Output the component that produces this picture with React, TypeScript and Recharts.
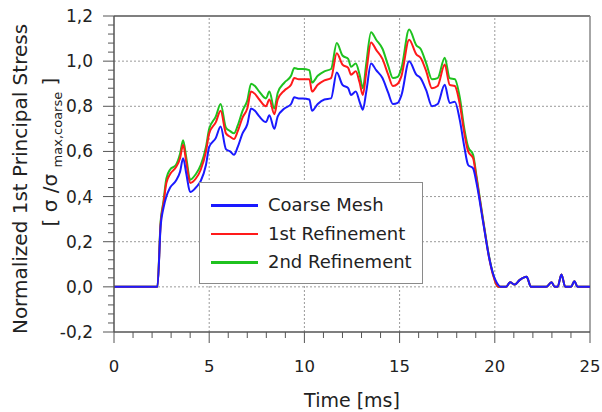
import React from 'react';
import { LineChart, Line, XAxis, YAxis, ReferenceLine, Legend } from 'recharts';

// ---- data ----
const timeMs = [
  0, 2.28, 2.45, 2.6, 2.75, 2.95, 3.25, 3.47, 3.63, 3.8,
  4.0, 4.3, 4.56, 4.83, 5.0, 5.35, 5.6, 5.88, 6.1, 6.3,
  6.5, 6.75, 7.0, 7.2, 7.4, 7.63, 7.98, 8.16, 8.42, 8.6,
  8.95, 9.3, 9.47, 9.7, 9.91, 10.26, 10.4, 10.7, 11.05, 11.4,
  11.7, 12.0, 12.3, 12.45, 12.7, 12.9, 13.07, 13.25, 13.5, 13.77,
  14.1, 14.4, 14.65, 14.9, 15.1, 15.5, 15.88, 16.1, 16.4, 16.7,
  17.0, 17.37, 17.63, 17.9, 18.16, 18.4, 18.6, 18.86, 19.04, 19.4,
  19.7, 19.9, 20.17, 20.3, 20.6, 20.8, 21.05, 21.3, 21.67, 21.9,
  22.7, 22.98, 23.15, 23.3, 23.5, 23.7, 24.0, 24.18, 24.35, 25,
];

const coarseMesh = [
  0, 0, 0.27, 0.35, 0.40, 0.44, 0.47, 0.51, 0.57, 0.50,
  0.42, 0.44, 0.47, 0.54, 0.62, 0.66, 0.71, 0.61, 0.60, 0.585,
  0.62, 0.68, 0.72, 0.79, 0.78, 0.755, 0.73, 0.76, 0.70, 0.755,
  0.79, 0.81, 0.84, 0.835, 0.835, 0.83, 0.78, 0.81, 0.83, 0.835,
  0.95, 0.895, 0.88, 0.85, 0.865, 0.82, 0.785, 0.865, 0.99, 0.96,
  0.925, 0.86, 0.81, 0.815, 0.85, 1.0, 0.94, 0.925, 0.87, 0.80,
  0.81, 0.895, 0.815, 0.82, 0.74, 0.62, 0.54, 0.525, 0.46, 0.28,
  0.13, 0.06, 0.01, 0, 0, 0.02, 0.01, 0.03, 0.045, 0,
  0, 0.02, 0, 0, 0.055, 0, 0, 0.025, 0, 0,
];

const firstRefinement = [
  0, 0, 0.28, 0.37, 0.46, 0.50, 0.53, 0.57, 0.63, 0.55,
  0.46, 0.48, 0.52, 0.60, 0.68, 0.73, 0.78, 0.68, 0.665, 0.655,
  0.69, 0.75, 0.79, 0.865, 0.855, 0.83, 0.80, 0.83, 0.765, 0.83,
  0.87, 0.895, 0.925, 0.92, 0.92, 0.92, 0.865, 0.895, 0.915, 0.925,
  1.035, 0.985, 0.97, 0.94, 0.955, 0.905, 0.85, 0.95, 1.083, 1.05,
  1.01, 0.94, 0.89, 0.90, 0.935, 1.095, 1.03, 1.015, 0.955, 0.88,
  0.89, 0.985, 0.895, 0.89, 0.81, 0.68, 0.60, 0.57, 0.48, 0.285,
  0.13, 0.055, 0, 0, 0, 0.02, 0.01, 0.03, 0.045, 0,
  0, 0.02, 0, 0, 0.055, 0, 0, 0.025, 0, 0,
];

const secondRefinement = [
  0, 0, 0.29, 0.38, 0.48, 0.52, 0.54, 0.59, 0.65, 0.57,
  0.475, 0.50, 0.54, 0.62, 0.70, 0.755, 0.81, 0.705, 0.69, 0.68,
  0.715, 0.78, 0.825, 0.90, 0.89, 0.865, 0.835, 0.865, 0.79, 0.86,
  0.905, 0.935, 0.97, 0.965, 0.965, 0.96, 0.905, 0.935, 0.955, 0.965,
  1.08, 1.025, 1.01, 0.975, 0.99, 0.94, 0.88, 0.99, 1.128, 1.095,
  1.055, 0.98, 0.925, 0.93, 0.97, 1.14, 1.07, 1.055, 0.99, 0.92,
  0.925, 1.015, 0.925, 0.92, 0.84, 0.70, 0.62, 0.585, 0.49, 0.29,
  0.135, 0.06, 0, 0, 0, 0.02, 0.01, 0.03, 0.045, 0,
  0, 0.02, 0, 0, 0.055, 0, 0, 0.025, 0, 0,
];

const xMajorTicks = [0, 5, 10, 15, 20, 25];
const yMajorTicks = [-0.2, 0, 0.2, 0.4, 0.6, 0.8, 1.0, 1.2];
const xGridValues = [5, 10, 15, 20];
const yGridValues = [0, 0.2, 0.4, 0.6, 0.8, 1.0];

const seriesNames = ['Coarse Mesh', '1st Refinement', '2nd Refinement'];
const seriesKeys = ['coarse', 'ref1', 'ref2'];
const seriesColors = ['#1a1aff', '#ff1a1a', '#1fc21f'];

const xTitle = 'Time [ms]';
const yTitleLine1 = 'Normalized 1st Principal Stress';

// ---- table for recharts ----
const data = timeMs.map((t, i) => ({
  t,
  coarse: coarseMesh[i],
  ref1: firstRefinement[i],
  ref2: secondRefinement[i],
}));

const xAllTicks: number[] = [];
for (let v = 0; v <= 25; v += 1) xAllTicks.push(v);
const yAllTicks: number[] = [];
for (let k = -5; k <= 30; k += 1) yAllTicks.push(Math.round(k * 4) / 100);

const FONT = '"DejaVu Sans", sans-serif';
const AXIS_COLOR = '#555';

const isMajor = (list: number[], v: number) => list.some((m) => Math.abs(m - v) < 1e-6);
const fmt = (v: number) => v.toFixed(1).replace('.', ',');

const YTick = (props: any) => {
  const { x, y, payload } = props;
  const v = payload.value;
  const major = isMajor(yMajorTicks, v);
  return (
    <g>
      <line x1={x - (major ? 11 : 6)} x2={x} y1={y} y2={y} stroke={AXIS_COLOR} strokeWidth={1} />
      {major && (
        <text x={x - 21} y={y} dy={6} textAnchor="end" fontSize={17} fill="#222" fontFamily={FONT}>
          {fmt(v)}
        </text>
      )}
    </g>
  );
};

const XTick = (props: any) => {
  const { x, y, payload } = props;
  const v = payload.value;
  const major = isMajor(xMajorTicks, v);
  return (
    <g>
      <line x1={x} x2={x} y1={y} y2={y + (major ? 11 : 6)} stroke={AXIS_COLOR} strokeWidth={1} />
      {major && (
        <text x={x} y={y + 40} textAnchor="middle" fontSize={16.5} fill="#222" fontFamily={FONT}>
          {String(v)}
        </text>
      )}
    </g>
  );
};

const YTitle = (props: any) => {
  const vb = props.viewBox || { x: 0, y: 16, width: 114, height: 316 };
  const cy1 = vb.y + vb.height / 2 + 5;
  const cy2 = vb.y + vb.height / 2 - 22;
  const bx1 = vb.x + 27;
  const bx2 = vb.x + 57;
  return (
    <g fontFamily={FONT} fill="#222">
      <text transform={`translate(${bx1},${cy1}) rotate(-90)`} textAnchor="middle" fontSize={20}>
        {yTitleLine1}
      </text>
      <text transform={`translate(${bx2},${cy2}) rotate(-90)`} textAnchor="middle" fontSize={20}>
        <tspan>{'[ σ /σ '}</tspan>
        <tspan fontSize={13} dy={5}>max,coarse</tspan>
        <tspan dy={-5}>{' ]'}</tspan>
      </text>
    </g>
  );
};

const LegendBox = () => (
  <div
    style={{
      width: 222,
      height: 100,
      border: '1px solid #8a8a8a',
      background: '#fff',
      position: 'relative',
      fontFamily: FONT,
      fontSize: 18,
      color: '#222',
    }}
  >
    {seriesNames.map((name, i) => (
      <div key={name} style={{ position: 'absolute', left: 0, top: 22 + i * 28.5 - 12, height: 24, width: 222 }}>
        <div
          style={{
            position: 'absolute',
            left: 11,
            top: 11,
            width: 47,
            height: 2.5,
            background: seriesColors[i],
          }}
        />
        <div style={{ position: 'absolute', left: 68, top: 1, whiteSpace: 'nowrap', lineHeight: '22px' }}>{name}</div>
      </div>
    ))}
  </div>
);

export default function App() {
  return (
    <div style={{ position: 'absolute', left: 0, top: 0, width: 602, height: 412, overflow: 'hidden', background: '#fff' }}>
      <LineChart
        width={602}
        height={412}
        data={data}
        margin={{ top: 16, right: 12, bottom: 0, left: 0 }}
        style={{ fontFamily: FONT }}
      >
        {xGridValues.map((v) => (
          <ReferenceLine key={'gx' + v} x={v} stroke="#9a9a9a" strokeDasharray="2 2" strokeWidth={1} />
        ))}
        {yGridValues.map((v) => (
          <ReferenceLine key={'gy' + v} y={v} stroke="#9a9a9a" strokeDasharray="2 2" strokeWidth={1} />
        ))}
        <ReferenceLine y={1.2} stroke={AXIS_COLOR} strokeWidth={1.5} />
        <ReferenceLine x={25} stroke="#888" strokeWidth={1.5} />
        <XAxis
          dataKey="t"
          type="number"
          domain={[0, 25]}
          ticks={xAllTicks}
          interval={0}
          height={80}
          tickSize={0}
          tickMargin={0}
          tickLine={false}
          tick={<XTick />}
          axisLine={{ stroke: AXIS_COLOR, strokeWidth: 1.5 }}
          label={{ value: xTitle, position: 'insideBottom', offset: 5, fontSize: 19, fill: '#222', fontFamily: FONT }}
        />
        <YAxis
          type="number"
          domain={[-0.2, 1.2]}
          ticks={yAllTicks}
          interval={0}
          width={114}
          tickSize={0}
          tickMargin={0}
          tickLine={false}
          tick={<YTick />}
          axisLine={{ stroke: AXIS_COLOR, strokeWidth: 1.5 }}
          allowDataOverflow
          label={<YTitle />}
        />
        <Line dataKey={seriesKeys[2]} name={seriesNames[2]} stroke={seriesColors[2]} strokeWidth={2} dot={false} type="monotone" isAnimationActive={false} />
        <Line dataKey={seriesKeys[1]} name={seriesNames[1]} stroke={seriesColors[1]} strokeWidth={2} dot={false} type="monotone" isAnimationActive={false} />
        <Line dataKey={seriesKeys[0]} name={seriesNames[0]} stroke={seriesColors[0]} strokeWidth={2} dot={false} type="monotone" isAnimationActive={false} />
        <Legend
          layout="vertical"
          align="center"
          verticalAlign="middle"
          content={() => <LegendBox />}
          wrapperStyle={{ position: 'absolute', left: 199, top: 182, width: 224, height: 102 }}
        />
      </LineChart>
    </div>
  );
}
